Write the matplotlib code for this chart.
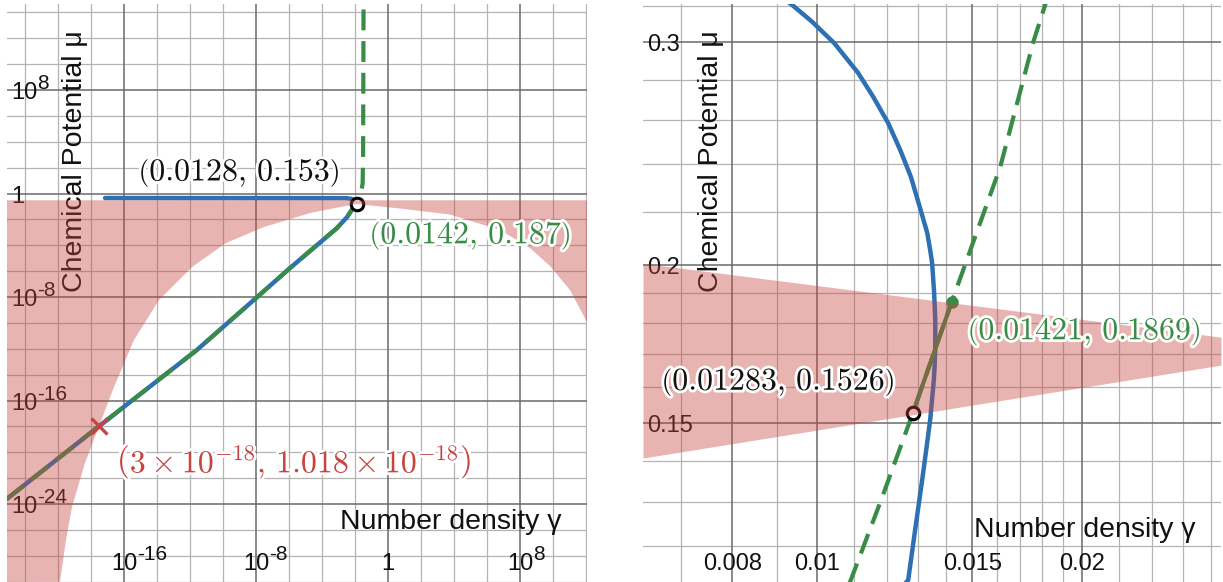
import matplotlib
matplotlib.use("Agg")
import matplotlib.pyplot as plt
import matplotlib.patheffects as pe
from matplotlib.transforms import blended_transform_factory, offset_copy

plt.rcParams['font.family'] = ['Liberation Sans', 'DejaVu Sans']
plt.rcParams['mathtext.fontset'] = 'cm'

W, H, DPI = 1223, 582, 100
PT = 72.0 / DPI  # points per pixel

BLUE = '#2d70b3'
GREEN = '#388c46'
RED = '#c74440'
GRID_MINOR = '#b4b4b4'
GRID_MAJOR = '#6a6a6a'

# ---------------- curve data (number density gamma, chemical potential mu) ----------------
# low-density branch shared by both curves (mu ~ gamma)
diag_gamma = [7.9e-24, 3e-18, 2.6e-12, 1e-8, 1.15e-6, 8.1e-4, 3.3e-3, 7.6e-3]
diag_mu = [2.5e-24, 1.018e-18, 8.1e-13, 8.3e-9, 1.74e-6, 2.14e-3, 0.0151, 0.076]

# blue curve: flat part, then the bend around gamma ~ 0.0136
blue_flat_gamma = [7.1e-18, 3.0e-3, 6.5e-3]
blue_flat_mu = [0.45, 0.44, 0.38]
blue_arc_gamma = [0.00933, 0.00986, 0.01045, 0.01112, 0.01157, 0.01203, 0.01242,
                  0.01277, 0.01305, 0.01333, 0.01343, 0.01350, 0.01357, 0.01361,
                  0.01361, 0.01359, 0.01356, 0.01343, 0.01329, 0.01315, 0.01291,
                  0.01268]
blue_arc_mu = [0.3213, 0.3111, 0.2992, 0.2835, 0.2714, 0.2588, 0.2463,
               0.2346, 0.2229, 0.2118, 0.2054, 0.2005, 0.1900, 0.1808,
               0.1722, 0.1666, 0.1622, 0.1508, 0.1427, 0.1351, 0.1234,
               0.1127]

# green dashed curve above the low-density branch
green_upper_gamma = [0.01089, 0.01181, 0.01283, 0.01421, 0.01613, 0.01759, 0.01816,
                     0.024, 0.029, 0.031, 0.033]
green_upper_mu = [0.1123, 0.1303, 0.1526, 0.1869, 0.2388, 0.2998, 0.3213,
                  1.5, 6.0, 1e3, 1e15]

# marked points
pt_open = (0.01283, 0.1526)
pt_green = (0.01421, 0.1869)
pt_cross = (3e-18, 1.018e-18)
pt_open_coarse = (0.0128, 0.153)
pt_green_coarse = (0.0142, 0.187)

# shaded region, overview panel: below mu_top, outside the white dome
region_top_mu = 0.3
dome_gamma = [1.32e-20, 3.05e-20, 7.05e-20, 4.33e-19, 3e-18, 2.48e-17, 4.04e-16,
              1.32e-14, 1.32e-12, 1.52e-10, 3.05e-8, 1.87e-5, 6.1e-4, 0.0128,
              5.34, 5.72e3, 6.14e6, 4.04e8, 6.58e9, 1.07e11, 1.15e12]
dome_mu = [1e-30, 1.66e-27, 5.9e-25, 1.5e-21, 1.018e-18, 1.11e-15, 4.77e-12,
           5.89e-9, 2.09e-6, 1.50e-4, 2.58e-3, 0.0311, 0.0757, 0.153,
           0.0693, 0.0238, 1.51e-3, 6.14e-5, 2.49e-6, 3.49e-8, 1.17e-10]

# shaded wedge, zoomed panel
wedge_gamma = [0.006334, 0.02875]
wedge_top = [0.2005, 0.1753]
wedge_bot = [0.1407, 0.1666]

# ---------------- axes ranges and grid ----------------
left_xlim = (10 ** -23.09, 10 ** 12.06)
left_ylim = (10 ** -30.02, 10 ** 14.645)
left_minor_exp = list(range(-22, 13, 2))
left_major_exp = [-16, -8, 0, 8]
left_minor_exp_y = list(range(-30, 15, 2))
left_major_exp_y = [-24, -16, -8, 0, 8]
left_xtick_exp = [-16, -8, 0, 8]
left_ytick_exp = [8, 0, -8, -16, -24]

right_xlim = (0.006334, 0.02875)
right_ylim = (0.1123, 0.3213)
right_minor_x = [0.007, 0.009, 0.011, 0.012, 0.013, 0.014, 0.016, 0.017, 0.018,
                 0.019, 0.022, 0.024, 0.026, 0.028]
right_major_x = [0.008, 0.01, 0.015, 0.02]
right_minor_y = [0.12, 0.13, 0.14, 0.16, 0.17, 0.18, 0.19, 0.22, 0.24, 0.26, 0.28, 0.32]
right_major_y = [0.15, 0.2, 0.3]
right_xtick_labels = ['0.008', '0.01', '0.015', '0.02']
right_ytick_labels = ['0.3', '0.2', '0.15']
right_ytick_vals = [0.3, 0.2, 0.15]

fig = plt.figure(figsize=(W / DPI, H / DPI), dpi=DPI)
fig.patch.set_facecolor('white')

# panel boxes in pixels: left, right, top, bottom
L_BOX = (7, 587, 4, 582)
R_BOX = (643, 1221, 4, 582)


def make_axes(box):
    x0, x1, y0, y1 = box
    ax = fig.add_axes([x0 / W, 1 - y1 / H, (x1 - x0) / W, (y1 - y0) / H])
    ax.set_xscale('log')
    ax.set_yscale('log')
    ax.set_axis_off()
    return ax


def grid(ax, xs_minor, xs_major, ys_minor, ys_major):
    for v in xs_minor:
        ax.axvline(v, color=GRID_MINOR, lw=0.9, zorder=0.5)
    for v in ys_minor:
        ax.axhline(v, color=GRID_MINOR, lw=0.9, zorder=0.5)
    for v in xs_major:
        ax.axvline(v, color=GRID_MAJOR, lw=1.1, zorder=0.6)
    for v in ys_major:
        ax.axhline(v, color=GRID_MAJOR, lw=1.1, zorder=0.6)


TICK_FS = 17
EXP_FS = 15
TWO_DIGITS = 2 * 0.556 * TICK_FS  # width of "10" in points
TXT = '#111111'


def xtick(ax, xval, base, exp=None, baseline_px=570):
    tr = blended_transform_factory(ax.transData, fig.transFigure)
    y = 1 - baseline_px / H
    ax.text(xval, y, base, transform=tr, ha='center', va='baseline',
            fontsize=TICK_FS, color=TXT, zorder=1.5)
    if exp is not None:
        tr2 = offset_copy(tr, fig=fig, x=TWO_DIGITS / 2, y=10 * PT, units='points')
        ax.text(xval, y, exp, transform=tr2, ha='left', va='baseline',
                fontsize=EXP_FS, color=TXT, zorder=1.5)


def ytick(ax, yval, base, exp=None, left_px=11):
    tr = blended_transform_factory(fig.transFigure, ax.transData)
    tr = offset_copy(tr, fig=fig, y=-9 * PT, units='points')
    x = left_px / W
    ax.text(x, yval, base, transform=tr, ha='left', va='baseline',
            fontsize=TICK_FS, color=TXT, zorder=1.5)
    if exp is not None:
        tr2 = offset_copy(tr, fig=fig, x=TWO_DIGITS, y=10 * PT, units='points')
        ax.text(x, yval, exp, transform=tr2, ha='left', va='baseline',
                fontsize=EXP_FS, color=TXT, zorder=1.5)


def axis_titles(ax, box, xlabel_baseline):
    x0, x1, y0, y1 = box
    ax.text((x0 + 68) / W, 1 - 30 / H, 'Chemical Potential μ', transform=fig.transFigure,
            rotation=90, ha='center', va='top', fontsize=20.5, color=TXT, zorder=1.5)
    ax.text((x1 - 26) / W, 1 - xlabel_baseline / H, 'Number density γ',
            transform=fig.transFigure, ha='right', va='baseline', fontsize=20.5,
            color=TXT, zorder=1.5)


halo = [pe.withStroke(linewidth=4, foreground='white')]


def point_label(ax, xy, text, color, dx, dy, ha):
    ax.annotate(text, xy=xy, xytext=(dx, dy), textcoords='offset pixels',
                ha=ha, va='center', fontsize=23, color=color, zorder=6,
                path_effects=halo)


def pow_label(e):
    return ('1', None) if e == 0 else ('10', str(e))


blue_gamma = blue_flat_gamma + blue_arc_gamma + diag_gamma[::-1]
blue_mu = blue_flat_mu + blue_arc_mu + diag_mu[::-1]
green_gamma = diag_gamma + green_upper_gamma
green_mu = diag_mu + green_upper_mu


def draw_curves(ax):
    ax.plot(blue_gamma, blue_mu, color=BLUE, lw=3.2, solid_capstyle='round',
            solid_joinstyle='round', zorder=2.1)
    ax.plot(green_gamma, green_mu, color=GREEN, lw=3.0, linestyle=(0, (5, 2.6)),
            zorder=2.2)
    ax.plot([pt_open[0], pt_green[0]], [pt_open[1], pt_green[1]], color=GREEN,
            lw=3.0, zorder=2.2)


# ---------------- overview panel ----------------
axL = make_axes(L_BOX)
axL.set_xlim(*left_xlim)
axL.set_ylim(*left_ylim)
grid(axL,
     [10.0 ** e for e in left_minor_exp if e not in left_major_exp],
     [10.0 ** e for e in left_major_exp],
     [10.0 ** e for e in left_minor_exp_y if e not in left_major_exp_y],
     [10.0 ** e for e in left_major_exp_y])
for e in left_xtick_exp:
    b, ex = pow_label(e)
    xtick(axL, 10.0 ** e, b, ex)
for e in left_ytick_exp:
    b, ex = pow_label(e)
    ytick(axL, 10.0 ** e, b, ex, left_px=L_BOX[0] + 4)
axis_titles(axL, L_BOX, 529)
draw_curves(axL)
axL.plot(*pt_green_coarse, 'o', color=GREEN, ms=9, mew=0, zorder=2.4)
axL.plot(*pt_open_coarse, 'o', mfc='white', mec='black', ms=9, mew=2.2, zorder=2.5)
axL.plot(*pt_cross, 'x', color=RED, ms=11, mew=2.4, zorder=2.5)

gmin, gmax = left_xlim
poly_x = [gmin, gmax] + dome_gamma[::-1] + [gmin]
poly_y = [region_top_mu, region_top_mu] + dome_mu[::-1] + [left_ylim[0]]
axL.fill(poly_x, poly_y, color=RED, alpha=0.4, lw=0, zorder=3)

point_label(axL, pt_open_coarse, r'$\left(0.0128,\,0.153\right)$', TXT, -16, 31, 'right')
point_label(axL, pt_green_coarse, r'$\left(0.0142,\,0.187\right)$', GREEN, 12, -33, 'left')
point_label(axL, pt_cross, r'$\left(3\times10^{-18},\,1.018\times10^{-18}\right)$', RED, 18, -36, 'left')

# ---------------- zoomed panel ----------------
axR = make_axes(R_BOX)
axR.set_xlim(*right_xlim)
axR.set_ylim(*right_ylim)
grid(axR, right_minor_x, right_major_x, right_minor_y, right_major_y)
for v, s in zip(right_major_x, right_xtick_labels):
    xtick(axR, v, s)
for v, s in zip(right_ytick_vals, right_ytick_labels):
    ytick(axR, v, s, left_px=R_BOX[0] + 4)
axis_titles(axR, R_BOX, 537)
draw_curves(axR)
axR.plot(*pt_green, 'o', color=GREEN, ms=9, mew=0, zorder=2.4)
axR.plot(*pt_open, 'o', mfc='white', mec='black', ms=9, mew=2.2, zorder=2.5)
axR.fill_between(wedge_gamma, wedge_bot, wedge_top, color=RED, alpha=0.4, lw=0, zorder=3)

point_label(axR, pt_open, r'$\left(0.01283,\,0.1526\right)$', TXT, -17, 31, 'right')
point_label(axR, pt_green, r'$\left(0.01421,\,0.1869\right)$', GREEN, 16, -30, 'left')

fig.savefig('out.png', dpi=DPI, facecolor='white')
